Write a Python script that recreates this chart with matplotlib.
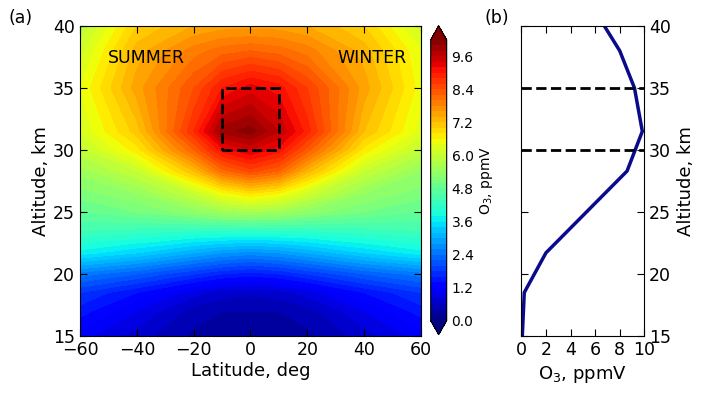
import numpy as np
import matplotlib
matplotlib.use('Agg')
import matplotlib.pyplot as plt
from matplotlib.patches import Rectangle

# ─── Data ─────────────────────────────────────────────────────────────────────
lats = [-60, -40, -20, -10, 0, 10, 20, 40, 60]
alts = [15.0, 17.0, 18.5, 20.0, 21.7, 23.5, 25.0, 26.5, 28.3,
        30.0, 31.5, 35.0, 38.0, 40.0]

# O3 (ppmV) at each altitude, columns follow `lats`
o3_150 = [1.1, 0.7, 0.35, 0.3, 0.3, 0.3, 0.35, 0.7, 1.1]
o3_170 = [1.5, 1.0, 0.5, 0.4, 0.4, 0.4, 0.5, 1.0, 1.5]
o3_185 = [1.8, 1.4, 0.9, 0.7, 0.65, 0.7, 0.9, 1.4, 1.8]
o3_200 = [2.5, 2.2, 1.8, 1.6, 1.5, 1.6, 1.8, 2.2, 2.5]
o3_217 = [3.7, 3.4, 3.0, 2.8, 2.7, 2.8, 3.0, 3.4, 3.7]
o3_235 = [4.4, 4.3, 4.2, 4.2, 4.2, 4.2, 4.2, 4.3, 4.4]
o3_250 = [4.8, 5.0, 5.3, 5.5, 5.6, 5.5, 5.3, 5.0, 4.8]
o3_265 = [5.1, 5.4, 6.0, 6.5, 6.8, 6.6, 6.1, 5.4, 5.1]
o3_283 = [5.5, 6.0, 7.2, 8.1, 8.5, 8.2, 7.3, 6.0, 5.4]
o3_300 = [5.9, 6.7, 8.2, 9.1, 9.4, 9.1, 8.3, 6.7, 5.9]
o3_315 = [6.2, 7.1, 8.8, 9.9, 10.1, 9.6, 8.9, 7.2, 6.3]
o3_350 = [6.4, 7.5, 8.4, 9.0, 9.3, 9.1, 8.6, 7.5, 6.5]
o3_380 = [6.1, 7.3, 7.9, 8.1, 8.2, 8.1, 7.9, 7.3, 6.4]
o3_400 = [5.8, 7.0, 7.4, 7.5, 7.5, 7.5, 7.4, 7.0, 6.1]

# profile shown in panel (b)
prof_o3 = [0.08, 0.24, 2.0, 8.6, 9.84, 9.2, 8.0, 6.75]
prof_alt = [15.0, 18.5, 21.7, 28.3, 31.5, 35.0, 38.0, 40.0]

field = np.array([o3_150, o3_170, o3_185, o3_200, o3_217, o3_235, o3_250,
                  o3_265, o3_283, o3_300, o3_315, o3_350, o3_380, o3_400])

plt.rcParams['xtick.direction'] = 'in'
plt.rcParams['ytick.direction'] = 'in'
plt.rcParams['xtick.major.size'] = 5
plt.rcParams['ytick.major.size'] = 5

fig = plt.figure(figsize=(7.06, 3.97), dpi=100)

# ─── (a) latitude-altitude section ────────────────────────────────────────────
ax1 = fig.add_axes([0.1133, 0.1537, 0.483, 0.781])
levels = np.linspace(0, 10.2, 52)
cf = ax1.contourf(lats, alts, field, levels=levels, cmap='jet', extend='both')
ax1.add_patch(Rectangle((-10, 30), 20, 5, fill=False, edgecolor='black',
                        linestyle='--', linewidth=2))
ax1.set_xlim(-60, 60)
ax1.set_ylim(15, 40)
ax1.set_xticks(np.arange(-60, 61, 20))
ax1.set_yticks(np.arange(15, 41, 5))
ax1.tick_params(top=True, right=True, labelsize=12.5)
ax1.set_xlabel('Latitude, deg', fontsize=13, labelpad=2)
ax1.set_ylabel('Altitude, km', fontsize=13, labelpad=2)
ax1.text(-50.3, 37.4, 'SUMMER', fontsize=12.5, va='center', ha='left')
ax1.text(54.8, 37.4, 'WINTER', fontsize=12.5, va='center', ha='right')

cax = fig.add_axes([0.610, 0.157, 0.0227, 0.778])
cb = fig.colorbar(cf, cax=cax, extend='both')
cb.set_ticks(np.arange(0, 9.7, 1.2))
cb.ax.tick_params(labelsize=10, direction='in', length=0)
cb.set_label('O$_3$, ppmV', fontsize=10, labelpad=3)

# ─── (b) profile ─────────────────────────────────────────────────────────────
ax2 = fig.add_axes([0.7384, 0.1537, 0.1742, 0.781])
ax2.plot(prof_o3, prof_alt, color='#0a0a8c', linewidth=2.5)
ax2.axhline(30, color='black', linestyle='--', linewidth=2, clip_on=False)
ax2.axhline(35, color='black', linestyle='--', linewidth=2, clip_on=False)
ax2.set_xlim(0, 10)
ax2.set_ylim(15, 40)
ax2.set_xticks(np.arange(0, 11, 2))
ax2.set_yticks(np.arange(15, 41, 5))
ax2.yaxis.tick_right()
ax2.yaxis.set_label_position('right')
ax2.tick_params(top=True, left=True, right=True, labelsize=12.5)
ax2.set_xlabel('O$_3$, ppmV', fontsize=13, labelpad=4)
ax2.set_ylabel('Altitude, km', fontsize=13, labelpad=4)

fig.text(0.012, 0.955, '(a)', fontsize=12.5, va='center')
fig.text(0.686, 0.955, '(b)', fontsize=12.5, va='center')

fig.savefig('out.png', dpi=100)
